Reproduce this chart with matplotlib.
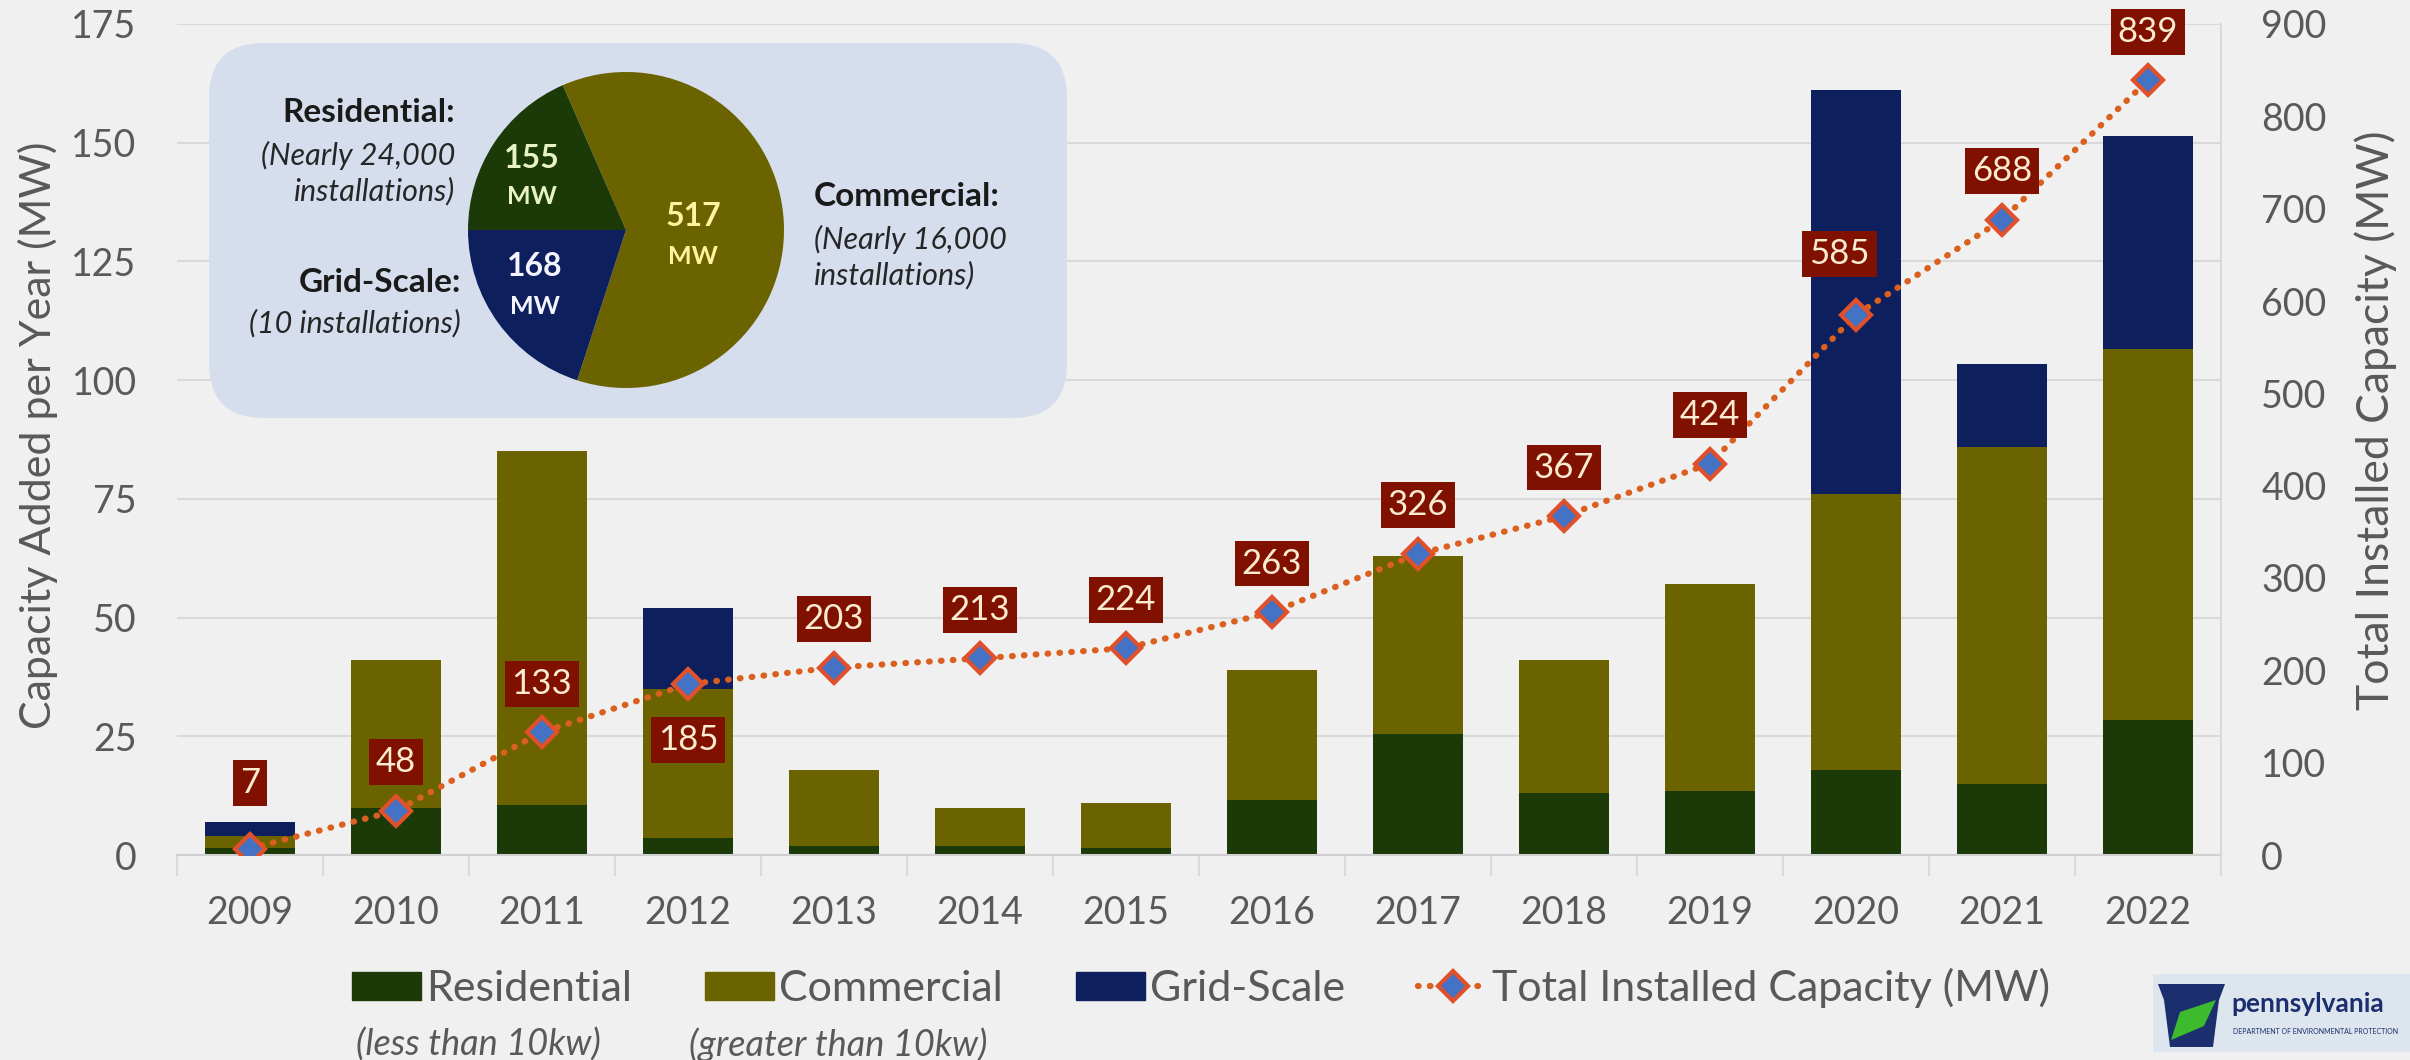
import numpy as np
import matplotlib.pyplot as plt
from matplotlib.patches import FancyBboxPatch, Polygon, Rectangle
from matplotlib.lines import Line2D

# ---- data ----
years = ["2009", "2010", "2011", "2012", "2013", "2014", "2015",
         "2016", "2017", "2018", "2019", "2020", "2021", "2022"]
residential = [1.5, 10, 10.5, 3.5, 2, 2, 1.5, 11.5, 25.5, 13, 13.5, 18, 15, 28.5]
commercial = [2.5, 31, 74.5, 31.5, 16, 8, 9.5, 27.5, 37.5, 28, 43.5, 58, 71, 78]
grid_scale = [3, 0, 0, 17, 0, 0, 0, 0, 0, 0, 0, 85, 17.5, 45]
total_installed = [7, 48, 133, 185, 203, 213, 224, 263, 326, 367, 424, 585, 688, 839]

pie_values = [517, 155, 168]   # commercial, residential, grid-scale
pie_numbers = ["517", "155", "168"]

# label offsets (points) for the total-capacity boxes
label_offsets = [(0, 47), (0, 35), (0, 35), (0, -40), (0, 35), (0, 35), (0, 35),
                 (0, 35), (0, 35), (0, 35), (0, 35), (-12, 44), (0, 35), (0, 35)]

W, H = 2410, 1060
BG = "#F0F0F0"
GREEN = "#1C3A08"
OLIVE = "#6B6200"
NAVY = "#0E1F5E"
LINE = "#D9601E"
GRAY = "#595959"

plt.rcParams['font.family'] = ['Lato', 'DejaVu Sans']

fig = plt.figure(figsize=(W / 100, H / 100), dpi=100, facecolor=BG)
ax = fig.add_axes([177 / W, 1 - 855 / H, (2221 - 177) / W, (855 - 24) / H])
ax.set_facecolor(BG)

x = np.arange(len(years))
res = np.array(residential)
com = np.array(commercial)
ax.bar(x, res, 0.62, color=GREEN, label="Residential")
ax.bar(x, com, 0.62, bottom=res, color=OLIVE, label="Commercial")
ax.bar(x, grid_scale, 0.62, bottom=res + com, color=NAVY, label="Grid-Scale")

ax.set_xlim(-0.5, 13.5)
ax.set_ylim(0, 175)
ax.set_yticks(range(0, 176, 25))
ax.set_xticks(x)
ax.set_xticklabels(years)
ax.set_xticks(np.arange(-0.5, 14, 1), minor=True)
ax.grid(axis='y', color='#D9D9D9', lw=1.5)
ax.set_axisbelow(True)
for s in ['top', 'left', 'right']:
    ax.spines[s].set_visible(False)
ax.spines['bottom'].set_color('#D0D0D0')
ax.spines['bottom'].set_linewidth(1.5)
ax.tick_params(axis='y', length=0, labelsize=27, labelcolor=GRAY, pad=29)
ax.tick_params(axis='x', which='major', length=0, labelsize=27, labelcolor=GRAY, pad=29)
ax.tick_params(axis='x', which='minor', length=15, width=1.5, color='#DADADA')

ax2 = ax.twinx()
ax2.set_ylim(0, 900)
ax2.set_yticks(range(0, 901, 100))
for s in ['top', 'left', 'bottom']:
    ax2.spines[s].set_visible(False)
ax2.spines['right'].set_color('#D9D9D9')
ax2.spines['right'].set_linewidth(1.5)
ax2.tick_params(axis='y', length=0, labelsize=27, labelcolor=GRAY, pad=29)

line_style = dict(color=LINE, lw=4.5, linestyle=(0, (0.1, 1.8)), dash_capstyle='round',
                  marker='D', ms=15, mfc='#4472C4', mec='#E0502A', mew=3)
ax2.plot(x, total_installed, **line_style)
for xi, v, off in zip(x, total_installed, label_offsets):
    ax2.annotate(str(v), (xi, v), xytext=off, textcoords='offset points',
                 ha='center', va='center', fontsize=25, color='#FBEBD0',
                 bbox=dict(boxstyle='square,pad=0.2', fc='#801000', ec='none'))

fig.text(38 / W, 1 - 435 / H, "Capacity Added per Year (MW)", rotation=90,
         ha='center', va='center', fontsize=31, color=GRAY)
fig.text(2376 / W, 1 - 420 / H, "Total Installed Capacity (MW)", rotation=90,
         ha='center', va='center', fontsize=32, color=GRAY)

# ---- legend ----
handles = [Rectangle((0, 0), 1, 1, color=GREEN), Rectangle((0, 0), 1, 1, color=OLIVE),
           Rectangle((0, 0), 1, 1, color=NAVY), Line2D([], [], **line_style)]
labels = ["Residential", "Commercial", "Grid-Scale", "Total Installed Capacity (MW)"]
fig.legend(handles, labels, loc='center', bbox_to_anchor=(1201 / W, 1 - 988 / H), ncol=4,
           frameon=False, fontsize=31, handlelength=1.6, handleheight=0.63,
           handletextpad=0.12, columnspacing=1.7, labelcolor=GRAY,
           borderpad=0, borderaxespad=0)
fig.text(478 / W, 1 - 1045 / H, "(less than 10kw)", ha='center', va='center',
         fontsize=26, style='italic', color=GRAY)
fig.text(838 / W, 1 - 1045 / H, "(greater than 10kw)", ha='center', va='center',
         fontsize=26, style='italic', color=GRAY)

# ---- overlay: pie inset + logo, in pixel coordinates ----
ov = fig.add_axes([0, 0, 1, 1], zorder=5)
ov.patch.set_alpha(0)
ov.add_patch(FancyBboxPatch((209, H - 418), 858, 375,
                            boxstyle='round,pad=0,rounding_size=55',
                            fc='#D6DEEE', ec='none'))
ov.pie(pie_values, colors=[OLIVE, GREEN, NAVY], startangle=-108,
       counterclock=True, center=(626, H - 230), radius=158,
       wedgeprops=dict(linewidth=0))
ov.set_xlim(0, W)
ov.set_ylim(0, H)
ov.set_aspect('auto')
ov.axis('off')

num_pos = [(693, 217), (532, 158), (535, 267)]
num_colors = ['#FFF3A0', '#E8F3C4', '#F4F4FF']
for txt, (px, py), c in zip(pie_numbers, num_pos, num_colors):
    ov.text(px, H - py, txt, ha='center', va='center', fontsize=23,
            fontweight='bold', color=c)
    ov.text(px, H - py - 39, "MW", ha='center', va='center', fontsize=18,
            fontweight='bold', color=c)

ov.text(455, H - 112, "Residential:", ha='right', va='center', fontsize=24,
        fontweight='bold', color='#1A1A1A')
ov.text(455, H - 173, "(Nearly 24,000\ninstallations)", ha='right', va='center',
        fontsize=22, style='italic', color='#262626', linespacing=1.3)
ov.text(461, H - 283, "Grid-Scale:", ha='right', va='center', fontsize=24,
        fontweight='bold', color='#1A1A1A')
ov.text(461, H - 323, "(10 installations)", ha='right', va='center',
        fontsize=22, style='italic', color='#262626')
ov.text(814, H - 197, "Commercial:", ha='left', va='center', fontsize=24,
        fontweight='bold', color='#1A1A1A')
ov.text(814, H - 257, "(Nearly 16,000\ninstallations)", ha='left', va='center',
        fontsize=22, style='italic', color='#262626', linespacing=1.3)

# logo
ov.add_patch(Rectangle((2153, H - 1052), 260, 78, fc='#DDE5EE', ec='none'))
ov.add_patch(Polygon([(2158, H - 984), (2225, H - 984), (2219, H - 1000),
                      (2213, H - 1047), (2170, H - 1047), (2164, H - 1000)],
                     fc='#1B2F6E', ec='none'))
ov.add_patch(Polygon([(2171, H - 1040), (2180, H - 1012), (2216, H - 1000),
                      (2204, H - 1026)], fc='#3DBA2E', ec='none'))
ov.text(2231, H - 1004, "pennsylvania", ha='left', va='center', fontsize=19,
        fontweight='bold', color='#1B2F6E')
ov.text(2233, H - 1031, "DEPARTMENT OF ENVIRONMENTAL PROTECTION", ha='left',
        va='center', fontsize=5, color='#1B2F6E')

fig.savefig("out.png", dpi=100, facecolor=BG)
